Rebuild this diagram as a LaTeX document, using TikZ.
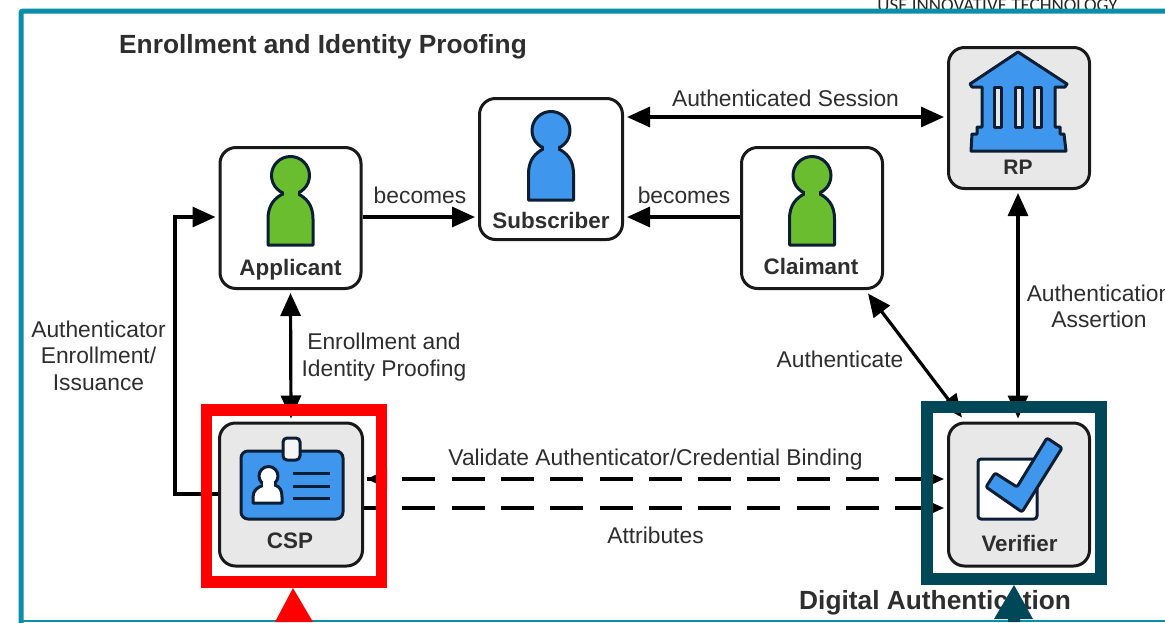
\documentclass[tikz,border=0pt]{standalone}
\usepackage{fontspec}
\setmainfont{Liberation Sans}
\newfontfamily\topfont{Carlito}
\usetikzlibrary{arrows.meta,calc}
\definecolor{frameteal}{HTML}{0B8FA9}
\definecolor{darkteal}{HTML}{004858}
\definecolor{redmark}{HTML}{FF0000}
\definecolor{boxgrey}{HTML}{E8E8E8}
\definecolor{iconblue}{HTML}{3E97EC}
\definecolor{icongreen}{HTML}{69BD2F}
\definecolor{iconline}{HTML}{0B1E33}
\definecolor{inktext}{HTML}{2E2E2E}
\tikzset{
  whitebox/.style={draw=black!90,line width=3pt,rounded corners=16pt,fill=white,minimum width=141pt,minimum height=141pt,inner sep=0pt},
  greybox/.style={whitebox,fill=boxgrey},
  boxlabel/.style={font=\bfseries\fontsize{22.4}{27}\selectfont,text=inktext,inner sep=0pt},
  title/.style={font=\bfseries\fontsize{26.3}{31}\selectfont,text=inktext,inner sep=0pt},
  lab/.style={font=\fontsize{22.8}{27}\selectfont,text=inktext,inner sep=0pt,align=center},
  conn/.style={draw=black,line width=3.2pt,-{Triangle[length=23pt,width=20pt]}},
  biconn/.style={draw=black,line width=3.2pt,{Triangle[length=23pt,width=20pt]}-{Triangle[length=23pt,width=20pt]}},
  shorttip/.style={draw=black,line width=3.2pt,-{Triangle[length=20pt,width=19pt]}},
  icon/.style={draw=iconline,line width=3pt,line join=round},
  pics/person/.style={code={
    \path[icon,fill=#1] (-22.5,88) -- (-22.5,62) .. controls (-22.5,47) and (-15,41) .. (-8,37) -- (8,37) .. controls (15,41) and (22.5,47) .. (22.5,62) -- (22.5,88) -- cycle;
    \path[icon,fill=#1] (0,18.5) circle[radius=19];
    \fill[#1] (-7,33) rectangle (7,41);
  }}
}
\begin{document}
\begin{tikzpicture}[x=1pt,y=-1pt]
\useasboundingbox (0,0) rectangle (1165,622);
\clip (0,0) rectangle (1165,622);
\fill[white] (0,0) rectangle (1165,622);
% clipped header text
\begin{scope}
\clip (800,0) rectangle (1165,9);
\node[font=\topfont\fontsize{19}{23}\selectfont,text=black!85,inner sep=0pt] (usetext) at (997.5,5) {USE INNOVATIVE TECHNOLOGY};
\end{scope}
% outer frame
\draw[frameteal,line width=5pt,rounded corners=2pt] (21,630) -- (21,11) -- (1175,11);
\draw[frameteal,line width=2pt] (21,621) -- (1165,621);
% boxes
\node[whitebox] (app) at (290.5,218) {};
\node[whitebox,minimum width=143pt] (sub) at (551,169) {};
\node[whitebox] (cla) at (812,218) {};
\node[greybox] (rp) at (1019,118) {};
\node[greybox,minimum width=143pt,minimum height=143pt] (csp) at (291,494.5) {};
\node[greybox,minimum height=143pt] (ver) at (1019,494.5) {};
% persons
\pic at (290.5,157) {person=icongreen};
\pic at (551,112) {person=iconblue};
\pic at (812,157) {person=icongreen};
% box labels
\node[boxlabel] (lapp) at (290.5,269.5) {Applicant};
\node[boxlabel] (lsub) at (551,220) {Subscriber};
\node[boxlabel] (lcla) at (811,266) {Claimant};
\node[boxlabel,font=\bfseries\fontsize{21}{25}\selectfont] (lrp) at (1018,167) {RP};
\node[boxlabel] (lcsp) at (290,541) {CSP};
\node[boxlabel] (lver) at (1019.5,543) {Verifier};
% bank icon
\path[icon,fill=iconblue] (1018,52) -- (1067,84) -- (1065,87) -- (1055,87) -- (1055,127) -- (1060,127) -- (1060,134) -- (1064,134) -- (1066,151) -- (971,151) -- (972,134) -- (977,134) -- (977,127) -- (982,127) -- (982,87) -- (972,87) -- (970,84) -- cycle;
\foreach \cx in {997.5,1018.5,1038}{
  \path[icon,fill=boxgrey] (\cx-3.5,87) rectangle (\cx+3.5,127);
}
% id card
\path[icon,fill=iconblue,rounded corners=7pt] (241,451) rectangle (343,519);
\path[icon,fill=boxgrey!40,rounded corners=4pt] (283,438) rectangle (300,460);
\path[icon,fill=white] (253,503) -- (253,497) .. controls (253,490) and (258,487) .. (264,485) -- (275,485) .. controls (280,487) and (282,490) .. (282,497) -- (282,503) -- cycle;
\path[icon,fill=white] (268.5,476) circle[radius=9.5];
\fill[white] (263,482) rectangle (274,488);
\foreach \ly in {473,486,498}{
  \draw[iconline,line width=3pt] (293,\ly) -- (330,\ly);
}
% check icon
\path[icon,fill=white,rounded corners=3pt] (978,459) rectangle (1037,519);
\path[icon,fill=iconblue,rounded corners=2pt] (986,487) -- (995,473) -- (1017,487) -- (1047,438) -- (1062,448) -- (1022,512) -- cycle;
% connector helpers
\coordinate (bendlow) at (175,494);
\coordinate (bendhigh) at (175,217);
% connectors
\draw[conn] (csp.west |- bendlow) -- (bendlow) -- (bendhigh) -- ($(app.west |- bendhigh)+(-3,0)$);
\draw[conn] (app.east |- 0,217) -- ($(sub.west |- 0,217)+(-3,0)$);
\draw[conn] (cla.west |- 0,217) -- ($(sub.east |- 0,217)+(3,0)$);
\draw[biconn] ($(sub.east |- 0,117)+(3,0)$) -- ($(rp.west |- 0,117)+(-3,0)$);
\draw[biconn] ($(app.south)+(0,3)$) -- ($(csp.north)+(0,-3)$);
\draw[biconn] ($(rp.south)+(-1,3)$) -- ($(ver.north)+(-1,-3)$);
\draw[biconn] ($(cla.south east)+(-16,3.5)$) -- ($(ver.north west)+(15,-4)$);
\draw[conn,dash pattern=on 33pt off 16.3pt,dash phase=14pt] ($(csp.east |- 0,479)+(3,0)$) -- ($(ver.west |- 0,479)+(-3,0)$);
\draw[shorttip] ($(csp.east |- 0,479)+(23,0)$) -- ($(csp.east |- 0,479)+(3,0)$);
\draw[conn,dash pattern=on 33pt off 16.3pt,dash phase=11pt] (csp.east |- 0,508) -- ($(ver.west |- 0,508)+(-3,0)$);
% labels
\node[title,anchor=west] (t1) at (119,46.5) {Enrollment and Identity Proofing};
\node[title,anchor=west] (t2) at (799,602.5) {Digital Authentication};
\node[lab] (l1) at (420,195) {becomes};
\node[lab] (l2) at (684,195) {becomes};
\node[lab] (l3) at (785.5,98) {Authenticated Session};
\node[lab] (l4) at (384,357) {Enrollment and\\[-0.5pt]Identity Proofing};
\node[lab] (l5) at (98.5,355.5) {Authenticator\\[-0.5pt]Enrollment/\\[-0.5pt]Issuance};
\node[lab] (l6) at (1099,306.5) {Authentication\\[-0.5pt]Assertion};
\node[lab] (l7) at (840,359.5) {Authenticate};
\node[lab] (l8) at (655.5,459.5) {Validate Authenticator/Credential Binding};
\node[lab] (l9) at (655.5,535) {Attributes};
% highlight frames and pointers
\draw[redmark,line width=11.5pt] (206.5,410) rectangle (381.5,582);
\draw[darkteal,line width=12pt] (927,407) rectangle (1101,578.5);
\fill[redmark] (293,588) -- (313,622) -- (275,622) -- cycle;
\fill[darkteal] (1014,585) -- (1033,619) -- (1020,619) -- (1020,622) -- (1008,622) -- (1008,619) -- (994,619) -- cycle;
\draw[frameteal,line width=2pt] (313,621) -- (1008,621);
\end{tikzpicture}
\end{document}
